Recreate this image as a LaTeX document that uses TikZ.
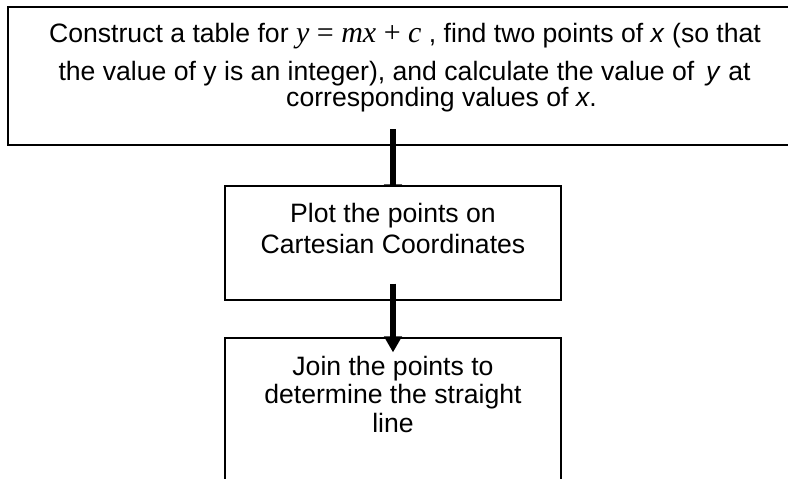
\documentclass[tikz,border=0pt]{standalone}
\usepackage{fontspec}
\setmainfont{Liberation Sans}
\newfontfamily\tnr{Liberation Serif}
\usetikzlibrary{arrows.meta,calc,backgrounds}
\tikzset{
  boxnode/.style={draw=black, line width=1.2pt, fill=white, inner sep=0pt},
  txt/.style={anchor=base, inner sep=0pt, font=\fontsize{26.6}{30}\selectfont},
  bigarrow/.style={line width=6pt, -{Triangle[width=17pt,length=16pt]}}
}
\newcommand{\eqsp}{\hspace{7.5pt}}
\begin{document}
\begin{tikzpicture}[x=1pt,y=-1pt]
\useasboundingbox (0,0) rectangle (788,479);
\clip (0,0) rectangle (788,479);
\node[boxnode, fill=none, minimum width=792pt, minimum height=138pt] (box1) at (404,76) {};
\node[boxnode, minimum width=336pt, minimum height=114pt] (box2) at (393,243) {};
\node[boxnode, minimum width=336pt, minimum height=164pt] (box3) at (393,420) {};
\begin{scope}[on background layer]
  \draw[bigarrow] ($(box2.north)+(0,-56)$) -- ($(box2.north)+(0,15)$);
\end{scope}
\draw[bigarrow] ($(box2.south)+(0,-17)$) -- ($(box3.north)+(0,15)$);
% top box text
\node[txt] (t1) at (405,42) {Construct a table for {\tnr\fontsize{30}{30}\selectfont\itshape y\eqsp\upshape=\eqsp\itshape mx\eqsp\upshape+\eqsp\itshape c} , find two points of \textit{x} (so that};
\node[txt] (t2) at (404.5,80) {the value of y is an integer), and calculate the value of \,\textit{y} at};
\node[txt] (t3) at (441.5,106) {corresponding values of \textit{x}.};
% middle box text
\node[txt] (m1) at (393,222) {Plot the points on};
\node[txt] (m2) at (393,253) {Cartesian Coordinates};
% bottom box text
\node[txt] (b1) at (393,375) {Join the points to};
\node[txt] (b2) at (393,403) {determine the straight};
\node[txt] (b3) at (393,432) {line};
\end{tikzpicture}
\end{document}
